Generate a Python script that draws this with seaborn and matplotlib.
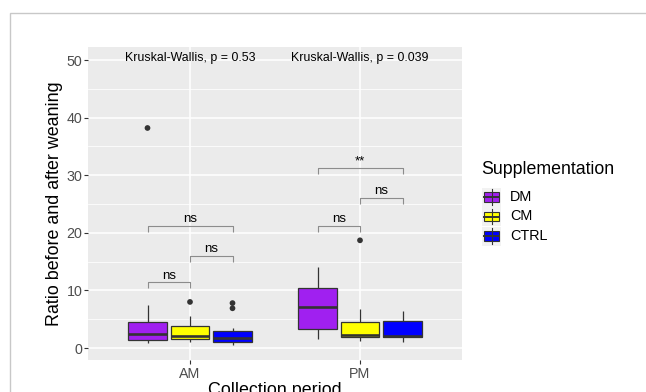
import numpy as np
import pandas as pd
import matplotlib
matplotlib.use("Agg")
import matplotlib.pyplot as plt
from matplotlib.patches import Rectangle
from matplotlib.lines import Line2D
import seaborn as sns

# ---------------- data ----------------
periods = ["AM", "PM"]
groups = ["DM", "CM", "CTRL"]
palette = ["#A020F0", "#FFFF00", "#0000FF"]

# box statistics per period (rows) and group (columns)
whisker_low = [[0.80, 1.05, 0.45], [1.50, 1.20, 1.00]]
q1 = [[1.35, 1.50, 1.05], [3.30, 1.95, 1.85]]
median = [[2.35, 2.15, 1.80], [7.20, 2.30, 2.00]]
q3 = [[4.55, 3.75, 3.00], [10.35, 4.55, 4.75]]
whisker_high = [[7.45, 5.60, 3.50], [14.00, 6.70, 6.40]]

outlier_period = ["AM", "AM", "AM", "AM", "PM"]
outlier_group = ["DM", "CM", "CTRL", "CTRL", "CM"]
outlier_value = [38.2, 8.0, 7.8, 6.9, 18.7]

kw_labels = ["Kruskal-Wallis, p = 0.53", "Kruskal-Wallis, p = 0.039"]

cmp_period = ["AM", "AM", "AM", "PM", "PM", "PM"]
cmp_g1 = ["DM", "CM", "DM", "DM", "CM", "DM"]
cmp_g2 = ["CM", "CTRL", "CTRL", "CM", "CTRL", "CTRL"]
cmp_y = [11.4, 16.0, 21.2, 21.2, 26.1, 31.3]
cmp_label = ["ns", "ns", "ns", "ns", "ns", "**"]

# ---------------- figure ----------------
W, H = 646, 392
fig = plt.figure(figsize=(W / 100, H / 100), dpi=100)
plt.rcParams["font.family"] = ["Liberation Sans", "DejaVu Sans"]

def fx(x):
    return x / W

def fy(y):
    return 1 - y / H

ax = fig.add_axes([fx(88), fy(360), (462 - 88) / W, (360 - 47) / H])

rows = []
for i, p in enumerate(periods):
    for j, g in enumerate(groups):
        for v in (whisker_low[i][j], q1[i][j], median[i][j], q3[i][j], whisker_high[i][j]):
            rows.append({"Period": p, "Group": g, "Value": v})
df = pd.DataFrame(rows)

ax.set_facecolor("#EBEBEB")
ax.set_axisbelow(True)

sns.boxplot(data=df, x="Period", y="Value", hue="Group", order=periods,
            hue_order=groups, palette=palette, saturation=1, width=0.75, gap=0.1,
            whis=(0, 100), showcaps=False, showfliers=False,
            linecolor="#333333", linewidth=0.9,
            medianprops=dict(linewidth=1.9, color="#333333"),
            legend=False, ax=ax)

offsets = {g: (k - 1) * 0.25 for k, g in enumerate(groups)}
ox = [periods.index(p) + offsets[g] for p, g in zip(outlier_period, outlier_group)]
sns.scatterplot(x=ox, y=outlier_value, color="#333333", s=17,
                edgecolor="none", ax=ax, legend=False, zorder=3)

ax.set_xlim(-0.6, 1.6)
ax.set_ylim(-2.08, 52.26)
ax.set_yticks([0, 10, 20, 30, 40, 50])
ax.set_yticks([5, 15, 25, 35, 45], minor=True)
ax.set_xticks([0, 1])
ax.set_xticklabels(periods)
ax.grid(which="major", color="white", linewidth=1.1)
ax.grid(which="minor", axis="y", color="white", linewidth=0.55)
ax.tick_params(which="major", length=2.6, width=0.8, color="#333333",
               labelcolor="#4D4D4D", labelsize=10.3, pad=1.5)
ax.tick_params(which="minor", length=0)
ax.tick_params(axis="x", pad=2.5)
for s in ax.spines.values():
    s.set_visible(False)
ax.set_xlabel("")
ax.set_ylabel("")

# Kruskal-Wallis labels
for i, lab in enumerate(kw_labels):
    ax.text(i, 49.8, lab, ha="center", va="baseline", fontsize=8.9, color="black")

# significance brackets
tip = 1.05
for p, a, b, yv, lab in zip(cmp_period, cmp_g1, cmp_g2, cmp_y, cmp_label):
    xa = periods.index(p) + offsets[a]
    xb = periods.index(p) + offsets[b]
    ax.plot([xa, xa, xb, xb], [yv - tip, yv, yv, yv - tip], color="#8C8C8C",
            linewidth=0.8, solid_capstyle="butt")
    ax.text((xa + xb) / 2, yv + 0.6, lab, ha="center", va="baseline",
            fontsize=9.5, color="black")

# axis titles
fig.text(fx(55), fy(203.5), "Ratio before and after weaning", rotation=90,
         ha="center", va="center", fontsize=12.9, color="black")
fig.text(fx(275), fy(394.5), "Collection period", ha="center",
         va="baseline", fontsize=12.9, color="black")

# legend
fig.text(fx(481), fy(170), "Supplementation", ha="left", va="center",
         fontsize=12.8, color="black")
key = 19
key_x = 482
key_centers = [197, 216.5, 236]
for g, c, yc in zip(groups, palette, key_centers):
    top = yc - key / 2
    fig.add_artist(Rectangle((fx(key_x), fy(top + key)), key / W, key / H,
                             facecolor="#F2F2F2", edgecolor="none"))
    cx = key_x + key / 2
    fig.add_artist(Line2D([fx(cx), fx(cx)], [fy(top + 0.1 * key), fy(top + 0.9 * key)],
                          color="#333333", linewidth=0.8))
    fig.add_artist(Rectangle((fx(key_x + 0.125 * key), fy(top + 0.75 * key)),
                             0.75 * key / W, 0.5 * key / H,
                             facecolor=c, edgecolor="#333333", linewidth=0.8))
    fig.add_artist(Line2D([fx(key_x + 0.125 * key), fx(key_x + 0.875 * key)],
                          [fy(yc), fy(yc)], color="#333333", linewidth=1.4))
    fig.text(fx(510), fy(yc), g, ha="left", va="center", fontsize=10.4,
             color="black")

# outer frame (partially outside the canvas)
fig.add_artist(Rectangle((fx(9.5), fy(500)), 1.0, (500 - 12.5) / H,
                         facecolor="none", edgecolor="#C8C8C8", linewidth=1.0))

fig.savefig("out.png", dpi=100)
